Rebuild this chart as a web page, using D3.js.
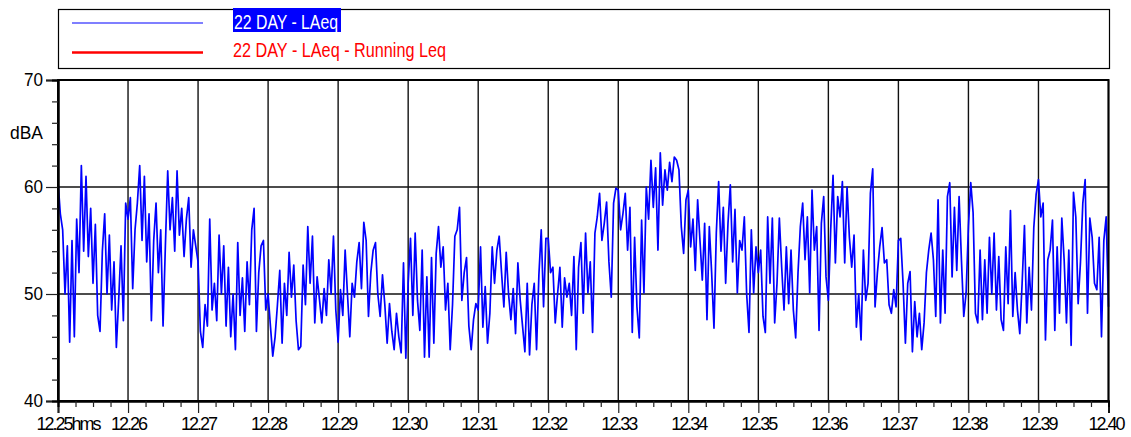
<!DOCTYPE html>
<html><head><meta charset="utf-8">
<script src="https://cdn.jsdelivr.net/npm/d3@7"></script>
<style>html,body{margin:0;padding:0;background:#fff;} svg{display:block;}</style>
</head><body>
<svg id="chart" width="1131" height="437"></svg>
<script>
// ---------- data ----------
const seriesNames = ["22 DAY - LAeq", "22 DAY - LAeq - Running Leq"];
const seriesColors = ["#0000ff", "#ff0000"];
const startTime = "2000-01-01T12:25:00";
const endTime = "2000-01-01T12:40:00";
const stepSeconds = 2;
// LAeq (dBA), one reading every 2 s from 12:25:00 to 12:40:00
const laeq = [
 60.5,57.5,56,50,54.5,45.5,55,46,57,52,62,54,61,53.5,58,51,56.5,48,46.5,54,57.5,50,55.5,48.5,53,45,49.5,54.5,47.5,58.5,
 57,59,50.5,56,58.5,62,55,61,53,57.5,47.5,55,58.5,52,56,47,54.5,61.5,56,59,54,61.5,55.5,58,53.5,57,59,52.5,56,54.5,
 53,46.5,45,49,47,57,48.5,51,47.5,55.5,50,54.5,47,52.5,46,50,44.8,54.8,48,51.5,46.5,53,49,56,58,46.5,52,54.5,55,48.5,
 50,47,44.2,46,49,52.2,45.4,51,48,53.9,49.7,52.7,47.5,44.8,45.1,52.7,49,56.3,51,55.4,47.3,51.6,49.5,47.3,50.5,48,53.2,50,55.4,48.5,
 45.5,50.4,48,54.1,50,46,51,49.7,53,54.8,50.5,56.7,55,47.9,52,54.1,54.8,50,47.9,51.8,49,45.4,49.1,46.5,44.8,48.2,46,44.5,52.9,44,
 51,55.2,48,55.7,49.4,46.6,54.1,44.1,51.6,44.1,53.4,45.4,53.8,56.3,52.5,54.4,48.5,51,44.8,49,55.4,56,58.1,49.4,52,53.4,47,44.8,47.6,49.1,
 48.5,54.4,46.9,50.7,45.4,48.2,54.4,51,54.1,55.4,52,48.8,53.9,50,47.6,50.5,46.3,52.9,49.4,47,44.6,51,44.3,49,51,44.8,51.8,56,48.8,55.2,
 55.2,52,52.5,47.3,50,52.5,46.9,51.5,49.7,51,48,53.5,44.8,52.5,54.8,48.2,55.7,50.1,53,46.4,55.7,57.2,59.4,55,56.6,58.6,53,49.7,58.5,59.9,
 59.7,56,57.5,59.4,54.1,58.1,46.4,55.3,48.8,45.9,56.9,50.1,60,57,62.5,58.1,61.8,54.1,63.2,58.3,61.6,59.7,62.3,60.5,62.8,62.5,61.6,56.3,53.8,58.8,
 59.7,54.4,57,52.2,58.8,55,51.3,56.6,47.6,56.3,52,46.8,55.7,60.5,54,58.1,51,56.6,60.2,53,57.9,50.1,55,54.1,57.2,50,46.4,56,50.1,54.4,
 52,54.1,47.9,46.4,57.2,51,57.1,47.3,51,57.1,52.5,48.5,54.4,49.1,54.1,48.5,45.9,52,56.3,58.5,53.2,57.2,50.1,59.7,54.1,56.3,46.6,56.6,59.1,51.6,
 49.4,56,61.1,52.9,59.1,57.2,60.5,52.9,60,55.3,52.5,55.5,46.9,50,45.7,54.1,49.4,51,59.4,61.7,48.8,52,54.4,56.2,52.9,53.2,49,48.2,50.4,48.8,
 55,55.2,51,45.4,51,52.1,44.6,49.3,46,48.2,44.8,47.3,52,54.1,55.7,53.2,47.9,58.8,47.3,54.1,48.2,59.1,60.4,51.6,58.1,52.2,59.1,53.2,47.9,50.1,
 56.3,60.4,57.6,48.2,47.3,54.1,47.6,53.2,48.2,55.3,50,55.7,48.5,53.5,47.6,46.6,54.4,49.1,57.8,47.9,52,48.5,46.3,51,56.4,47.3,52.5,48.5,56.2,59.3,
 60.7,57.2,58.5,45.7,53.2,54.1,56.9,46.6,54.4,48.2,57.1,53.2,47.3,54.1,45.2,59.5,57.2,49.1,53,58.5,60.7,48.2,57.1,55.3,51,50.4,55.3,46,55,57.2,
 48.8
];
const yTickValues = [40, 50, 60, 70];
const yUnitLabel = "dBA";
const xTickLabels = ["12.25hms","12.26","12.27","12.28","12.29","12.30","12.31","12.32","12.33","12.34","12.35","12.36","12.37","12.38","12.39","12.40"];

// ---------- chart ----------
const FONT = "'Liberation Sans', Arial, sans-serif";
const svg = d3.select("#chart");
const L = 58, R = 1108.5, T = 80, B = 401;
const t0 = new Date(startTime), t1 = new Date(endTime);
const x = d3.scaleTime().domain([t0, t1]).range([L, R]);
const y = d3.scaleLinear().domain([40, 70]).range([B, T]);
const data = laeq.map((v, i) => ({ t: new Date(t0.getTime() + i * stepSeconds * 1000), v }));
const minuteTicks = d3.timeMinute.every(1).range(t0, new Date(t1.getTime() + 1));
const minorXTicks = d3.timeSecond.every(15).range(t0, new Date(t1.getTime() + 1)).filter(d => d.getSeconds() !== 0);

// legend
svg.append("rect").attr("x", 58.5).attr("y", 9.5).attr("width", 1051).attr("height", 59)
  .attr("fill", "#fff").attr("stroke", "#000").attr("stroke-width", 1.2);
svg.append("line").attr("x1", 72).attr("x2", 203).attr("y1", 23).attr("y2", 23)
  .attr("stroke", seriesColors[0]).attr("stroke-width", 1.2);
svg.append("rect").attr("x", 233).attr("y", 8).attr("width", 108).attr("height", 24).attr("fill", "#0000ff");
svg.append("text").attr("x", 234).attr("y", 28.5).attr("font-family", FONT).attr("font-size", 20)
  .attr("fill", "#fff").attr("textLength", 104).attr("lengthAdjust", "spacingAndGlyphs").text(seriesNames[0]);
svg.append("line").attr("x1", 72).attr("x2", 203).attr("y1", 52.5).attr("y2", 52.5)
  .attr("stroke", seriesColors[1]).attr("stroke-width", 2.5);
svg.append("text").attr("x", 233).attr("y", 57).attr("font-family", FONT).attr("font-size", 20)
  .attr("fill", seriesColors[1]).attr("textLength", 213).attr("lengthAdjust", "spacingAndGlyphs").text(seriesNames[1]);

// grid
const grid = svg.append("g").attr("stroke", "#111").attr("stroke-width", 1.4);
grid.selectAll("line.v").data(minuteTicks).join("line")
  .attr("x1", d => x(d)).attr("x2", d => x(d)).attr("y1", T).attr("y2", B);
grid.selectAll("line.h").data([50, 60]).join("line")
  .attr("x1", L).attr("x2", R).attr("y1", d => y(d)).attr("y2", d => y(d));

// data line
svg.append("path").datum(data)
  .attr("fill", "none").attr("stroke", seriesColors[0]).attr("stroke-width", 1.7).attr("stroke-linejoin", "round")
  .attr("d", d3.line().x(d => x(d.t)).y(d => y(d.v)));

// frame
svg.append("rect").attr("x", L).attr("y", T).attr("width", R - L).attr("height", B - T)
  .attr("fill", "none").attr("stroke", "#000").attr("stroke-width", 2);

// y axis
const yAxisMajor = svg.append("g").attr("transform", `translate(${L},0)`)
  .call(d3.axisLeft(y).tickValues(yTickValues).tickSize(12).tickPadding(3).tickFormat(d3.format("d")));
const yAxisMinor = svg.append("g").attr("transform", `translate(${L},0)`)
  .call(d3.axisLeft(y).tickValues(d3.range(40, 71, 2).filter(v => v % 10 !== 0)).tickSize(6).tickFormat(""));
[yAxisMajor, yAxisMinor].forEach(g => {
  g.select(".domain").attr("stroke", "#000").attr("stroke-width", 2);
  g.selectAll(".tick line").attr("stroke", "#222").attr("stroke-width", 1.2);
});
yAxisMajor.selectAll(".tick text").attr("font-family", FONT).attr("font-size", 18).attr("fill", "#000")
  .attr("textLength", 19).attr("lengthAdjust", "spacingAndGlyphs");
svg.append("text").attr("x", 43).attr("y", 139).attr("text-anchor", "end").attr("font-family", FONT)
  .attr("font-size", 18).attr("textLength", 33).attr("lengthAdjust", "spacingAndGlyphs").text(yUnitLabel);

// x axis
const xAxisMajor = svg.append("g").attr("transform", `translate(0,${B})`)
  .call(d3.axisBottom(x).tickValues(minuteTicks).tickSize(12).tickPadding(4).tickFormat((d, i) => xTickLabels[i]));
const xAxisMinor = svg.append("g").attr("transform", `translate(0,${B})`)
  .call(d3.axisBottom(x).tickValues(minorXTicks).tickSize(6).tickFormat(""));
[xAxisMajor, xAxisMinor].forEach(g => {
  g.select(".domain").attr("stroke", "#000").attr("stroke-width", 2);
  g.selectAll(".tick line").attr("stroke", "#222").attr("stroke-width", 1.2);
});
const nX = xTickLabels.length;
xAxisMajor.selectAll(".tick text").attr("font-family", FONT).attr("font-size", 18).attr("fill", "#000")
  .attr("letter-spacing", "-2px")
  .attr("text-anchor", (d, i) => i === 0 ? "start" : "middle")
  .attr("x", (d, i) => i === 0 ? -22 : (i === nX - 1 ? -3 : 0));
</script>
</body></html>
